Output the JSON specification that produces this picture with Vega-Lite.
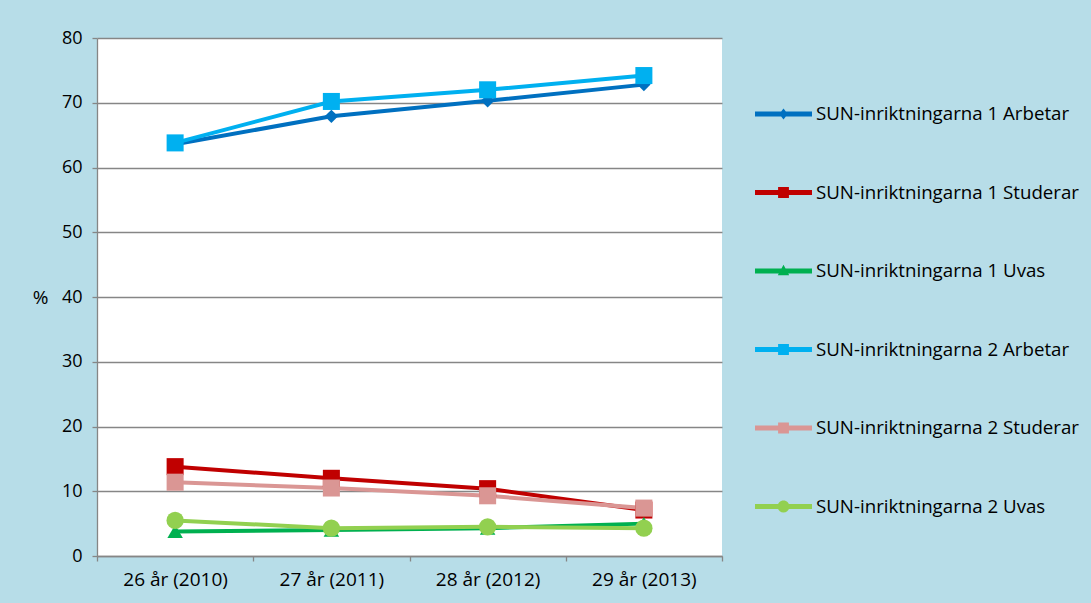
{
  "$schema": "https://vega.github.io/schema/vega-lite/v6.json",
  "width": 625,
  "height": 518,
  "autosize": {"type": "none"},
  "padding": {"left": 97, "top": 38, "right": 369, "bottom": 47},
  "background": "#b7dde8",
  "config": {
    "view": {"fill": "white", "stroke": null},
    "font": "Open Sans",
    "axis": {"labelFont": "Open Sans", "titleFont": "Open Sans", "labelColor": "black", "titleColor": "black"},
    "legend": {"labelFont": "Open Sans"}
  },
  "data": {
    "values": [
      {"year": "26 år (2010)", "series": "SUN-inriktningarna 1 Arbetar", "value": 63.6},
      {"year": "27 år (2011)", "series": "SUN-inriktningarna 1 Arbetar", "value": 67.9},
      {"year": "28 år (2012)", "series": "SUN-inriktningarna 1 Arbetar", "value": 70.3},
      {"year": "29 år (2013)", "series": "SUN-inriktningarna 1 Arbetar", "value": 72.8},
      {"year": "26 år (2010)", "series": "SUN-inriktningarna 1 Studerar", "value": 13.8},
      {"year": "27 år (2011)", "series": "SUN-inriktningarna 1 Studerar", "value": 12.0},
      {"year": "28 år (2012)", "series": "SUN-inriktningarna 1 Studerar", "value": 10.4},
      {"year": "29 år (2013)", "series": "SUN-inriktningarna 1 Studerar", "value": 7.1},
      {"year": "26 år (2010)", "series": "SUN-inriktningarna 1 Uvas", "value": 3.8},
      {"year": "27 år (2011)", "series": "SUN-inriktningarna 1 Uvas", "value": 4.0},
      {"year": "28 år (2012)", "series": "SUN-inriktningarna 1 Uvas", "value": 4.3},
      {"year": "29 år (2013)", "series": "SUN-inriktningarna 1 Uvas", "value": 5.0},
      {"year": "26 år (2010)", "series": "SUN-inriktningarna 2 Arbetar", "value": 63.8},
      {"year": "27 år (2011)", "series": "SUN-inriktningarna 2 Arbetar", "value": 70.2},
      {"year": "28 år (2012)", "series": "SUN-inriktningarna 2 Arbetar", "value": 72.0},
      {"year": "29 år (2013)", "series": "SUN-inriktningarna 2 Arbetar", "value": 74.2},
      {"year": "26 år (2010)", "series": "SUN-inriktningarna 2 Studerar", "value": 11.4},
      {"year": "27 år (2011)", "series": "SUN-inriktningarna 2 Studerar", "value": 10.5},
      {"year": "28 år (2012)", "series": "SUN-inriktningarna 2 Studerar", "value": 9.3},
      {"year": "29 år (2013)", "series": "SUN-inriktningarna 2 Studerar", "value": 7.4},
      {"year": "26 år (2010)", "series": "SUN-inriktningarna 2 Uvas", "value": 5.5},
      {"year": "27 år (2011)", "series": "SUN-inriktningarna 2 Uvas", "value": 4.3},
      {"year": "28 år (2012)", "series": "SUN-inriktningarna 2 Uvas", "value": 4.5},
      {"year": "29 år (2013)", "series": "SUN-inriktningarna 2 Uvas", "value": 4.3}
    ]
  },
  "encoding": {
    "x": {
      "field": "year",
      "type": "ordinal",
      "sort": ["26 år (2010)", "27 år (2011)", "28 år (2012)", "29 år (2013)"],
      "scale": {"type": "band", "paddingInner": 0, "paddingOuter": 0},
      "axis": {
        "title": null,
        "labelAngle": 0,
        "labelFontSize": 19,
        "labelPadding": 9,
        "tickBand": "extent",
        "tickSize": 5,
        "tickColor": "#868686",
        "domainColor": "#868686",
        "domainWidth": 1.3,
        "tickWidth": 1.3,
        "grid": false
      }
    },
    "y": {
      "field": "value",
      "type": "quantitative",
      "scale": {"domain": [0, 80], "nice": false},
      "axis": {
        "values": [0, 10, 20, 30, 40, 50, 60, 70, 80],
        "title": "%",
        "titleAngle": 0,
        "titleFontSize": 19,
        "titleFontWeight": "normal",
        "titleX": -57,
        "titleY": 259,
        "titleAlign": "center",
        "titleBaseline": "middle",
        "labelFontSize": 18,
        "labelPadding": 10,
        "tickSize": 5,
        "tickColor": "#868686",
        "domainColor": "#868686",
        "domainWidth": 1.3,
        "tickWidth": 1.3,
        "grid": true,
        "gridColor": "#868686",
        "gridWidth": 1.3
      }
    },
    "color": {
      "field": "series",
      "type": "nominal",
      "scale": {
        "domain": ["SUN-inriktningarna 1 Arbetar", "SUN-inriktningarna 1 Studerar", "SUN-inriktningarna 1 Uvas", "SUN-inriktningarna 2 Arbetar", "SUN-inriktningarna 2 Studerar", "SUN-inriktningarna 2 Uvas"],
        "range": ["#0070c0", "#c00000", "#00b050", "#00b0f0", "#da9694", "#92d050"]
      },
      "legend": {
        "title": null,
        "orient": "none",
        "legendX": 658,
        "legendY": 47.5,
        "padding": 0,
        "labelFontSize": 18.7,
        "labelColor": "black",
        "labelLimit": 0,
        "labelOffset": 4,
        "rowPadding": 39.5,
        "symbolSize": 3249,
        "symbolStrokeWidth": 0,
        "encode": {
          "symbols": {
            "update": {
              "shape": {"signal": "indexof(datum.value,'Arbetar') >= 0 ? (indexof(datum.value,' 1 ') >= 0 ? 'M-1,-0.088L1,-0.088L1,0.088L-1,0.088ZM0,-0.19L0.15,0L0,0.19L-0.15,0Z' : 'M-1,-0.088L1,-0.088L1,0.088L-1,0.088ZM-0.19,-0.19L0.19,-0.19L0.19,0.19L-0.19,0.19Z') : (indexof(datum.value,'Studerar') >= 0 ? 'M-1,-0.088L1,-0.088L1,0.088L-1,0.088ZM-0.19,-0.19L0.19,-0.19L0.19,0.19L-0.19,0.19Z' : (indexof(datum.value,' 1 ') >= 0 ? 'M-1,-0.088L1,-0.088L1,0.088L-1,0.088ZM0,-0.22L0.2,0.15L-0.2,0.15Z' : 'M-1,-0.088L1,-0.088L1,0.088L-1,0.088ZM-0.21,0A0.21,0.21,0,1,1,0.21,0A0.21,0.21,0,1,1,-0.21,0Z'))"},
              "fill": {"scale": "color", "field": "value"},
              "stroke": {"value": "transparent"},
              "strokeWidth": {"value": 0},
              "opacity": {"value": 1},
              "fillOpacity": {"value": 1}
            }
          }
        }
      }
    }
  },
  "layer": [
    {
      "mark": {"type": "line", "strokeWidth": 4}
    },
    {
      "transform": [{"filter": {"field": "series", "equal": "SUN-inriktningarna 1 Arbetar"}}],
      "mark": {"type": "point", "filled": true, "opacity": 1, "shape": "diamond", "size": 180}
    },
    {
      "transform": [{"filter": {"field": "series", "equal": "SUN-inriktningarna 1 Studerar"}}],
      "mark": {"type": "point", "filled": true, "opacity": 1, "shape": "square", "size": 290}
    },
    {
      "transform": [{"filter": {"field": "series", "equal": "SUN-inriktningarna 1 Uvas"}}],
      "mark": {"type": "point", "filled": true, "opacity": 1, "shape": "triangle-up", "size": 240}
    },
    {
      "transform": [{"filter": {"field": "series", "oneOf": ["SUN-inriktningarna 2 Arbetar", "SUN-inriktningarna 2 Studerar"]}}],
      "mark": {"type": "point", "filled": true, "opacity": 1, "shape": "square", "size": 290}
    },
    {
      "transform": [{"filter": {"field": "series", "equal": "SUN-inriktningarna 2 Uvas"}}],
      "mark": {"type": "point", "filled": true, "opacity": 1, "shape": "circle", "size": 300}
    }
  ]
}
